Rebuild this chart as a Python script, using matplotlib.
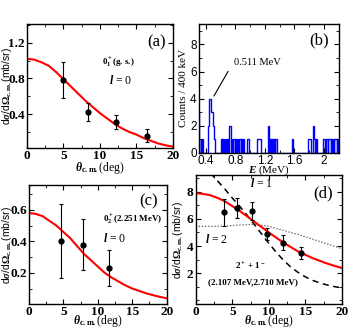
import numpy as np
import matplotlib
matplotlib.use("Agg")
import matplotlib.pyplot as plt
from matplotlib.ticker import MultipleLocator

plt.rcParams['font.family'] = ['Liberation Serif', 'DejaVu Serif']
plt.rcParams['font.weight'] = 'bold'
plt.rcParams['mathtext.fontset'] = 'custom'
plt.rcParams['mathtext.rm'] = 'Liberation Serif:bold'
plt.rcParams['mathtext.it'] = 'Liberation Serif:italic:bold'
plt.rcParams['mathtext.bf'] = 'Liberation Serif:bold'

# --- panel (a): 0+_1 ground state ---
a_theta = [4.9, 8.3, 12.2, 16.4]
a_xs = [0.78, 0.42, 0.31, 0.16]
a_err = [0.20, 0.10, 0.08, 0.07]
a_fit_theta = list(range(0, 21))
a_fit = [1.02, 1.01, 0.98, 0.94, 0.87, 0.79, 0.71, 0.63, 0.55, 0.48, 0.41,
         0.35, 0.29, 0.24, 0.20, 0.17, 0.13, 0.10, 0.07, 0.05, 0.035]

# --- panel (b): gamma spectrum, nonzero bins (lower edge, counts), 0.01 MeV bins ---
b_edge_lo = 0.30
b_edge_hi = 2.20
b_bin = 0.01
b_E = [0.30, 0.33, 0.35,
       0.43, 0.44, 0.45, 0.46, 0.47, 0.48, 0.49, 0.50, 0.51, 0.52,
       0.61, 0.63, 0.64, 0.66, 0.68, 0.69, 0.72, 0.73,
       0.75, 0.77, 0.78, 0.80, 0.82, 0.83, 0.85, 0.86, 0.88, 0.90, 0.91,
       0.96, 0.97,
       1.09, 1.10, 1.11, 1.12, 1.13, 1.14,
       1.24, 1.25, 1.27, 1.29, 1.30, 1.32, 1.34, 1.35,
       1.57,
       1.78, 1.79, 1.80, 1.81, 1.82, 1.85, 1.86, 1.87, 1.89,
       1.99, 2.00, 2.02, 2.03, 2.04, 2.06, 2.07, 2.08, 2.10,
       2.12, 2.14, 2.15, 2.16, 2.18]
b_counts = [3, 1, 1,
            2, 4, 4, 4, 3, 3, 2, 2, 1, 1,
            1, 1, 1, 1, 1, 1, 2, 2,
            1, 1, 1, 1, 1, 1, 1, 1, 1, 1, 1,
            1, 1,
            1, 1, 1, 1, 1, 1,
            2, 2, 1, 1, 1, 1, 1, 1,
            1,
            1, 1, 1, 1, 1, 2, 2, 1, 1,
            1, 1, 1, 1, 1, 1, 1, 1, 1,
            1, 1, 1, 1, 1]

# --- panel (c): 0+_2 (2.251 MeV) ---
c_theta = [4.6, 7.9, 11.6]
c_xs = [0.40, 0.38, 0.23]
c_err = [0.235, 0.16, 0.115]
c_fit_theta = list(range(0, 21))
c_fit = [0.58, 0.575, 0.56, 0.53, 0.50, 0.46, 0.42, 0.37, 0.32, 0.28, 0.24,
         0.20, 0.17, 0.145, 0.12, 0.10, 0.085, 0.07, 0.058, 0.047, 0.038]

# --- panel (d): 2+ + 1- doublet ---
d_theta = [3.9, 5.7, 7.7, 9.7, 12.0, 14.4]
d_xs = [6.5, 6.8, 6.6, 4.9, 4.25, 3.5]
d_err = [1.0, 0.75, 0.65, 0.45, 0.55, 0.45]
d_fit_theta = list(range(0, 21))
d_fit = [7.9, 7.85, 7.75, 7.55, 7.3, 6.95, 6.6, 6.2, 5.8, 5.4, 5.0,
         4.62, 4.25, 3.92, 3.6, 3.35, 3.1, 2.9, 2.7, 2.53, 2.38]
d_l1_theta = list(range(2, 21))
d_l1 = [9.4, 8.8, 8.2, 7.55, 6.95, 6.3, 5.6, 4.9, 4.2, 3.55, 2.95,
        2.45, 2.05, 1.72, 1.46, 1.27, 1.12, 1.0, 0.9]
d_l2_theta = [0, 2, 4, 6, 8, 10, 12, 14, 16, 18, 20]
d_l2 = [5.45, 5.45, 5.47, 5.55, 5.6, 5.45, 5.15, 4.85, 4.5, 4.15, 3.8]

xlabel_theta = r'$\theta_{\mathrm{c.m.}}$(deg)'
ylabel_xs = r'd$\sigma$/d$\Omega_{\mathrm{c.m.}}$(mb/sr)'


def style_axes(ax, size=9.5):
    ax.tick_params(which='both', direction='in', top=True, right=True, labelsize=size, pad=1.5)
    ax.tick_params(which='major', length=3.5, width=0.8)
    ax.tick_params(which='minor', length=2, width=0.6)
    for s in ax.spines.values():
        s.set_linewidth(1.0)
    for lab in ax.get_xticklabels() + ax.get_yticklabels():
        lab.set_fontweight('bold')


def theta_panel(ax, th, xs, err, fth, fit, ylim, ymaj, ymin, ylab_x, xlab_y):
    ax.plot(fth, fit, color='red', lw=1.5)
    ax.errorbar(th, xs, yerr=err, fmt='o', color='black', ms=3.5, capsize=1.5,
                elinewidth=0.8, capthick=0.8)
    ax.set_xlim(0, 20)
    ax.set_ylim(*ylim)
    ax.xaxis.set_major_locator(MultipleLocator(5))
    ax.xaxis.set_minor_locator(MultipleLocator(2.5))
    ax.yaxis.set_major_locator(MultipleLocator(ymaj))
    ax.yaxis.set_minor_locator(MultipleLocator(ymin))
    ax.set_xlabel(xlabel_theta, fontsize=8.5)
    ax.set_ylabel(ylabel_xs, fontsize=7.5, family=['Liberation Sans'])
    ax.yaxis.set_label_coords(ylab_x, 0.5)
    ax.xaxis.set_label_coords(0.5, xlab_y)
    style_axes(ax)


fig = plt.figure(figsize=(3.57, 3.30), dpi=100)

# (a)
ax_a = fig.add_axes([0.0756, 0.5515, 0.409, 0.376])
theta_panel(ax_a, a_theta, a_xs, a_err, a_fit_theta, a_fit, (0.02, 1.41), 0.4, 0.2,
            -0.09, -0.095)
ax_a.set_yticks([0.4, 0.8, 1.2])
ax_a.text(17.8, 1.2, '(a)', fontsize=12, fontweight='normal', ha='center', va='center')
ax_a.text(12.5, 0.98, r'0$_1^+$(g. s.)', fontsize=6.5, ha='center', va='center')
ax_a.text(12.8, 0.78, r'$l$ = 0', fontsize=8.5, fontweight='normal', ha='center', va='center')

# (b)
ax_b = fig.add_axes([0.557, 0.537, 0.392, 0.390])
edges = np.round(np.arange(b_edge_lo, b_edge_hi + b_bin / 2, b_bin), 3)
counts = np.zeros(len(edges) - 1)
for e, c in zip(b_E, b_counts):
    counts[int(round((e - b_edge_lo) / b_bin))] = c
ax_b.stairs(counts, edges, color='blue', lw=1.0)
ax_b.set_xlim(0.305, 2.2)
ax_b.set_ylim(0, 9.5)
ax_b.xaxis.set_major_locator(MultipleLocator(0.4))
ax_b.xaxis.set_minor_locator(MultipleLocator(0.2))
ax_b.yaxis.set_major_locator(MultipleLocator(2))
ax_b.yaxis.set_minor_locator(MultipleLocator(1))
ax_b.set_xticks([0.4, 0.8, 1.2, 1.6, 2.0])
ax_b.set_xticklabels(['0.4', '0.8', '1.2', '1.6', '2'])
ax_b.set_xlabel(r'$E$ (MeV)', fontsize=8)
ax_b.set_ylabel('Counts / 400 keV', fontsize=8)
ax_b.xaxis.set_label_coords(0.5, -0.085)
ax_b.yaxis.set_label_coords(-0.08, 0.5)
ax_b.plot([0.70, 0.51], [6.0, 4.2], color='black', lw=0.8)
ax_b.text(0.78, 6.7, '0.511 MeV', fontsize=7.5, fontweight='normal', ha='left', va='center')
ax_b.text(1.93, 8.3, '(b)', fontsize=12, fontweight='normal', ha='center', va='center')
style_axes(ax_b, size=8.5)
for lab in ax_b.get_xticklabels() + ax_b.get_yticklabels():
    lab.set_fontfamily('Liberation Sans')
    lab.set_fontweight('normal')

# (c)
ax_c = fig.add_axes([0.081, 0.078, 0.386, 0.362])
theta_panel(ax_c, c_theta, c_xs, c_err, c_fit_theta, c_fit, (0.0, 0.76), 0.2, 0.1,
            -0.11, -0.072)
ax_c.set_yticks([0.2, 0.4, 0.6])
ax_c.text(17.4, 0.655, '(c)', fontsize=12, fontweight='normal', ha='center', va='center')
ax_c.text(15.0, 0.54, r'0$_2^+$(2.251 MeV)', fontsize=6.5, ha='center', va='center')
ax_c.text(12.4, 0.42, r'$l$ = 0', fontsize=8.5, fontweight='normal', ha='center', va='center')

# (d)
ax_d = fig.add_axes([0.548, 0.078, 0.41, 0.392])
ax_d.plot(d_l1_theta, d_l1, color='black', lw=1.1, ls=(0, (4, 3)))
ax_d.plot(d_l2_theta, d_l2, color='#555555', lw=0.9, ls=(0, (1, 1.5)))
theta_panel(ax_d, d_theta, d_xs, d_err, d_fit_theta, d_fit, (-0.3, 9.25), 2, 1,
            -0.072, -0.068)
ax_d.set_yticks([2, 4, 6, 8])
ax_d.text(17.4, 7.9, '(d)', fontsize=12, fontweight='normal', ha='center', va='center')
ax_d.text(9.0, 8.6, r'$l$ = 1', fontsize=8.5, fontweight='normal', ha='center', va='center')
ax_d.text(2.9, 4.5, r'$l$ = 2', fontsize=8.5, fontweight='normal', ha='center', va='center')
ax_d.text(7.5, 2.5, r'2$^+$ + 1$^-$', fontsize=6.5, ha='center', va='center')
ax_d.text(7.8, 1.3, '(2.107 MeV,2.710 MeV)', fontsize=6.5, ha='center', va='center')

fig.savefig('out.png', dpi=100)
